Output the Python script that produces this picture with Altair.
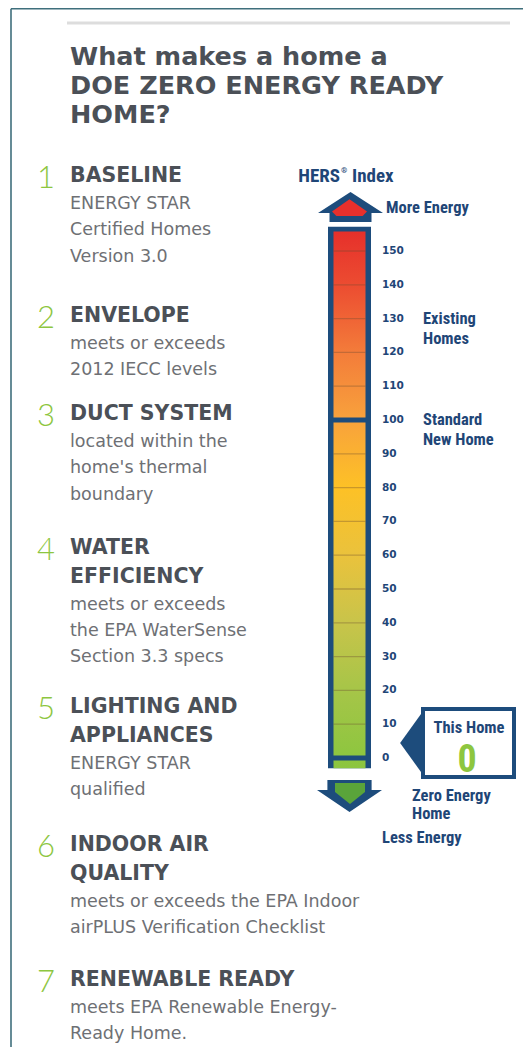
import altair as alt
import pandas as pd

# ---------------- content ----------------
TITLE_LINES = ["What makes a home a", "DOE ZERO ENERGY READY", "HOME?"]
ITEM_NUMBERS = ["1", "2", "3", "4", "5", "6", "7"]
ITEM_HEADINGS = [
    ["BASELINE"],
    ["ENVELOPE"],
    ["DUCT SYSTEM"],
    ["WATER", "EFFICIENCY"],
    ["LIGHTING AND", "APPLIANCES"],
    ["INDOOR AIR", "QUALITY"],
    ["RENEWABLE READY"],
]
ITEM_BODIES = [
    ["ENERGY STAR", "Certified Homes", "Version 3.0"],
    ["meets or exceeds", "2012 IECC levels"],
    ["located within the", "home's thermal", "boundary"],
    ["meets or exceeds", "the EPA WaterSense", "Section 3.3 specs"],
    ["ENERGY STAR", "qualified"],
    ["meets or exceeds the EPA Indoor", "airPLUS Verification Checklist"],
    ["meets EPA Renewable Energy-", "Ready Home."],
]

HERS_TITLE = ["HERS", "®", "Index"]
HERS_TICKS = [0, 10, 20, 30, 40, 50, 60, 70, 80, 90, 100, 110, 120, 130, 140, 150]
HERS_STRONG_TICKS = [0, 100]
HERS_BAR_LOW = -3
HERS_BAR_HIGH = 155.8
HERS_FRAME_HIGH = 157.2
HERS_STOP_VALUES = [-3, 0, 20, 40, 60, 80, 100, 120, 140, 155.8]
HERS_STOP_COLORS = ["#8cc540", "#8dc63f", "#a6c548", "#c8c44a", "#eac23c",
                    "#fdc126", "#f8a23c", "#f37c3a", "#ec4c31", "#e6302b"]
HERS_MARKER_VALUES = [130, 100]
HERS_MARKER_TEXTS = ["Existing\nHomes", "Standard\nNew Home"]
TOP_LABEL = "More Energy"
ZERO_LABEL = "Zero Energy\nHome"
BOTTOM_LABEL = "Less Energy"
THIS_HOME_LABEL = "This Home"
THIS_HOME_SCORE = 0

# ---------------- layout & style ----------------
W, H = 515, 1039
XS = alt.Scale(domain=[8, 523], nice=False, zero=False)
YS = alt.Scale(domain=[8, 1047], reverse=True, nice=False, zero=False)
ZERO_PX, PX_PER_UNIT = 758, 3.38
H0 = -(1047 - ZERO_PX) / PX_PER_UNIT
HS = alt.Scale(domain=[H0, H0 + H / PX_PER_UNIT], nice=False, zero=False)

BLUE = "#1d4c7c"
TXT_BLUE = "#1f4677"
HEAD_C = "#4b5057"
BODY_C = "#6e7074"
GREEN = "#8dc63f"
FRAME = "#3f6f7c"

F_MAIN = "DejaVu Sans"
F_COND = "Liberation Sans Narrow, Roboto Condensed, Roboto, sans-serif"

TITLE_X, TITLE_Y0, TITLE_STEP = 70, 65, 29
ITEM_Y = [182, 322, 420, 554, 713, 851, 986]
NUM_X, TEXT_X = 37, 70
HEAD_STEP, HEAD_TO_BODY, BODY_STEP = 28.5, 27, 26.3


def xy():
    return dict(x=alt.X("px:Q", scale=XS, axis=None),
                y=alt.Y("py:Q", scale=YS, axis=None))


def text_layer(df, **mark):
    return alt.Chart(df).mark_text(**mark).encode(text="text:N", **xy())


layers = []

# frame lines
frame = pd.DataFrame({"px": [11, 11], "py": [8.8, 8.8], "px2": [523, 11], "py2": [8.8, 1047]})
layers.append(alt.Chart(frame).mark_rule(color=FRAME, strokeWidth=1.6).encode(
    x=alt.X("px:Q", scale=XS, axis=None), y=alt.Y("py:Q", scale=YS, axis=None),
    x2="px2:Q", y2="py2:Q"))
rule = pd.DataFrame({"px": [67], "px2": [510], "py": [23]})
layers.append(alt.Chart(rule).mark_rule(color="#dddddd", strokeWidth=3).encode(
    x=alt.X("px:Q", scale=XS, axis=None), x2="px2:Q",
    y=alt.Y("py:Q", scale=YS, axis=None)))

# title
title_df = pd.DataFrame({"text": TITLE_LINES,
                         "px": [TITLE_X] * len(TITLE_LINES),
                         "py": [TITLE_Y0 + i * TITLE_STEP for i in range(len(TITLE_LINES))]})
layers.append(text_layer(title_df, align="left", baseline="alphabetic", font=F_MAIN,
                         fontWeight="bold", fontSize=25.5, color=HEAD_C))

# left list
nums, heads, bodies = [], [], []
for n, hd, bd, y0 in zip(ITEM_NUMBERS, ITEM_HEADINGS, ITEM_BODIES, ITEM_Y):
    nums.append({"text": n, "px": NUM_X, "py": y0 + 6})
    y = y0
    for i, line in enumerate(hd):
        y = y0 + i * HEAD_STEP
        heads.append({"text": line, "px": TEXT_X, "py": y})
    yb = y + HEAD_TO_BODY
    for j, line in enumerate(bd):
        bodies.append({"text": line, "px": TEXT_X, "py": yb + j * BODY_STEP})

layers.append(text_layer(pd.DataFrame(nums), align="left", baseline="alphabetic",
                         font="Lato", fontWeight=300, fontSize=31, color=GREEN))
layers.append(text_layer(pd.DataFrame(heads), align="left", baseline="alphabetic",
                         font=F_MAIN, fontWeight="bold", fontSize=20.5, color=HEAD_C))
layers.append(text_layer(pd.DataFrame(bodies), align="left", baseline="alphabetic",
                         font=F_MAIN, fontSize=17.5, color=BODY_C))

# HERS title (with superscript mark) and top/bottom labels
layers.append(text_layer(pd.DataFrame([{"text": HERS_TITLE[0], "px": 340, "py": 182}]),
                         align="right", baseline="alphabetic", font=F_COND,
                         fontWeight="bold", fontSize=19, color=TXT_BLUE))
layers.append(text_layer(pd.DataFrame([{"text": HERS_TITLE[1], "px": 341, "py": 173}]),
                         align="left", baseline="alphabetic", font=F_COND,
                         fontWeight="bold", fontSize=8, color=TXT_BLUE))
layers.append(text_layer(pd.DataFrame([{"text": HERS_TITLE[2], "px": 352, "py": 182}]),
                         align="left", baseline="alphabetic", font=F_COND,
                         fontWeight="bold", fontSize=19, color=TXT_BLUE))
lbl = pd.DataFrame([
    {"text": TOP_LABEL, "px": 386, "py": 213},
    {"text": BOTTOM_LABEL, "px": 382, "py": 843},
])
layers.append(text_layer(lbl, align="left", baseline="alphabetic", font=F_COND,
                         fontWeight="bold", fontSize=16.5, color=TXT_BLUE))
zl = pd.DataFrame([{"text": ZERO_LABEL, "px": 412, "py": 801}])
layers.append(text_layer(zl, align="left", baseline="alphabetic", font=F_COND,
                         fontWeight="bold", fontSize=16.5, lineBreak="\n", lineHeight=18,
                         color=TXT_BLUE))

# arrows (custom symbol paths)
UP_OUT = "M0,-0.46 L1,0.185 L0.646,0.185 L0.646,0.46 L-0.646,0.46 L-0.646,0.185 L-1,0.185 Z"
UP_IN = "M0,-0.5 L1,0.2 L0.75,0.45 L-0.75,0.45 L-1,0.2 Z"
DN_OUT = "M-0.68,-0.49 L0.68,-0.49 L0.68,-0.185 L1,-0.185 L0,0.49 L-1,-0.185 L-0.68,-0.185 Z"
DN_IN = "M-1,-0.6 L1,-0.6 L1,0 L0,0.8 L-1,0 Z"
PTR = "M-0.36,0 L0.36,-1 L0.36,1 Z"


def sym(px, py, path, size, color):
    return alt.Chart(pd.DataFrame({"px": [px], "py": [py]})).mark_point(
        shape=path, size=size, filled=True, opacity=1, color=color).encode(**xy())


layers.append(sym(350.5, 207, UP_OUT, 4225, BLUE))
layers.append(sym(349.5, 208, UP_IN, 1225, "#e8302c"))

# HERS bar: frame
bar_frame = pd.DataFrame({"px": [328], "px2": [371], "v": [HERS_BAR_LOW], "v2": [HERS_FRAME_HIGH]})
layers.append(alt.Chart(bar_frame).mark_rect(color=BLUE).encode(
    x=alt.X("px:Q", scale=XS, axis=None), x2="px2:Q",
    y=alt.Y("v:Q", scale=HS, axis=None), y2="v2:Q"))

# HERS bar: gradient fill
span = HERS_BAR_HIGH - HERS_BAR_LOW
stops = [alt.GradientStop(offset=(v - HERS_BAR_LOW) / span, color=c)
         for v, c in zip(HERS_STOP_VALUES, HERS_STOP_COLORS)]
grad = alt.LinearGradient(gradient="linear", stops=stops, x1=0, x2=0, y1=1, y2=0)
bar_fill = pd.DataFrame({"px": [333.5], "px2": [365.5], "v": [HERS_BAR_LOW], "v2": [HERS_BAR_HIGH]})
layers.append(alt.Chart(bar_fill).mark_rect(color=grad).encode(
    x=alt.X("px:Q", scale=XS, axis=None), x2="px2:Q",
    y=alt.Y("v:Q", scale=HS, axis=None), y2="v2:Q"))

# tick lines
thin = pd.DataFrame({"v": [t for t in HERS_TICKS if t not in HERS_STRONG_TICKS]})
thin["px"], thin["px2"] = 333.5, 365.5
layers.append(alt.Chart(thin).mark_rule(color="#6a4a30", opacity=0.35, strokeWidth=1.3).encode(
    x=alt.X("px:Q", scale=XS, axis=None), x2="px2:Q",
    y=alt.Y("v:Q", scale=HS, axis=None)))
strong = pd.DataFrame({"v": HERS_STRONG_TICKS})
strong["px"], strong["px2"] = 328, 371
layers.append(alt.Chart(strong).mark_rule(color=BLUE, strokeWidth=5).encode(
    x=alt.X("px:Q", scale=XS, axis=None), x2="px2:Q",
    y=alt.Y("v:Q", scale=HS, axis=None)))

# tick labels
tl = pd.DataFrame({"v": HERS_TICKS, "text": [str(t) for t in HERS_TICKS]})
tl["px"] = 382
layers.append(alt.Chart(tl).mark_text(align="left", baseline="middle", font="DejaVu Sans",
                                      fontWeight="bold", fontSize=10.5, color=TXT_BLUE).encode(
    x=alt.X("px:Q", scale=XS, axis=None), y=alt.Y("v:Q", scale=HS, axis=None), text="text:N"))

# markers
mk = pd.DataFrame({"v": HERS_MARKER_VALUES, "text": HERS_MARKER_TEXTS})
mk["px"] = 423
layers.append(alt.Chart(mk).mark_text(align="left", baseline="middle", font=F_COND,
                                      fontWeight="bold", fontSize=16.5, lineBreak="\n",
                                      lineHeight=20, color=TXT_BLUE).encode(
    x=alt.X("px:Q", scale=XS, axis=None), y=alt.Y("v:Q", scale=HS, axis=None), text="text:N"))

# down arrow
layers.append(sym(349.5, 796, DN_OUT, 4225, BLUE))
layers.append(sym(350, 792, DN_IN, 900, "#5aa43a"))

# This Home box
box = pd.DataFrame({"px": [423], "px2": [514], "py": [709], "py2": [777]})
layers.append(alt.Chart(box).mark_rect(fill="white", stroke=BLUE, strokeWidth=4).encode(
    x=alt.X("px:Q", scale=XS, axis=None), x2="px2:Q",
    y=alt.Y("py:Q", scale=YS, axis=None), y2="py2:Q"))
layers.append(sym(412, 743, PTR, 4356, BLUE))
th = pd.DataFrame([{"text": THIS_HOME_LABEL, "px": 469, "py": 733}])
layers.append(text_layer(th, align="center", baseline="alphabetic", font=F_COND,
                         fontWeight="bold", fontSize=16.5, color=TXT_BLUE))
sc = pd.DataFrame([{"text": str(THIS_HOME_SCORE), "px": 467, "py": 772}])
layers.append(text_layer(sc, align="center", baseline="alphabetic", font=F_COND,
                         fontWeight="bold", fontSize=38, color=GREEN))

chart = alt.layer(*layers).resolve_scale(y="independent").properties(
    width=W, height=H, padding=0, autosize=alt.AutoSizeParams(type="none"),
    background="white"
).configure_view(strokeWidth=0)

chart.save("out.html", embed_options={"renderer": "svg", "actions": False})
